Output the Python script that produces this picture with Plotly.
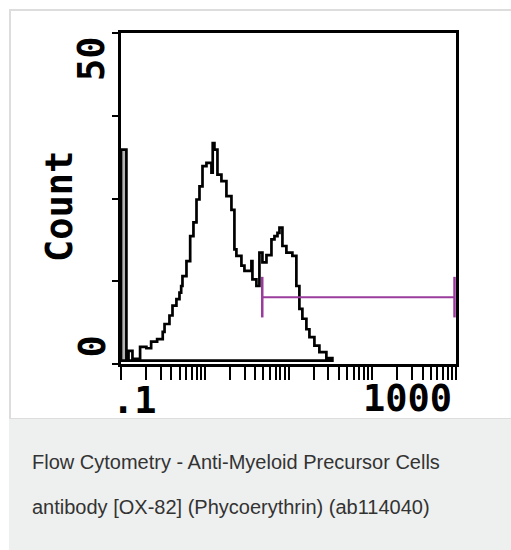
import numpy as np
import plotly.graph_objects as go

# ---------------- data ----------------
# histogram bins: left edge of each bin (fluorescence intensity) and count
bin_edges = [0.100, 0.116, 0.123, 0.137, 0.169, 0.201, 0.229, 0.270, 0.315, 0.331,
             0.379, 0.412, 0.459, 0.499, 0.523, 0.542, 0.605, 0.670, 0.733, 0.797,
             0.865, 0.940, 1.048, 1.202, 1.245, 1.305, 1.418, 1.582, 1.815, 2.083,
             2.261, 2.388, 2.741, 2.978, 3.608, 3.709, 4.139, 4.495, 4.884, 5.455,
             6.258, 6.799, 7.386, 7.801, 8.462, 9.440, 11.13, 12.42, 13.49, 14.65,
             16.36, 17.78, 20.39, 23.38, 28.33, 33.42]
bin_counts = [32.2, 0.0, 1.5, 0.3, 2.1, 1.9, 2.9, 3.3, 4.4, 5.6,
              6.9, 8.4, 9.4, 10.4, 11.4, 12.9, 15.2, 19.0, 21.1, 24.6,
              26.6, 29.7, 30.2, 28.7, 33.2, 32.2, 28.4, 27.4, 25.1, 23.0,
              17.0, 16.0, 14.5, 13.7, 15.2, 12.4, 11.4, 16.5, 15.0, 16.1,
              18.5, 19.0, 19.5, 20.3, 17.5, 16.5, 16.0, 11.4, 7.9, 6.4,
              4.8, 3.6, 2.3, 1.3, 0.4, 0.0]

gate_bounds = [4.86, 960]       # marker gate (intensity)
gate_level = 9.7                # count level at which the gate is drawn

x_range_log = [-1, 3]           # 0.1 .. 1000
y_range = [-0.5, 50]
x_labels = [".1", "1000"]
y_labels = ["50", "0"]
y_title = "Count"
caption = ["Flow Cytometry - Anti-Myeloid Precursor Cells",
           "antibody [OX-82] (Phycoerythrin) (ab114040)"]

# ---------------- layout geometry ----------------
W, H = 511, 550
ML, MR, MT, MB = 121, 55, 33, 186
PW, PH = W - ML - MR, H - MT - MB


def px(x):
    return (x - ML) / PW


def py(y):
    return (H - MB - y) / PH


# closed stepped outline of the histogram
hx = [bin_edges[0]] + list(bin_edges) + [bin_edges[0]]
hy = [0.0] + list(bin_counts) + [0.0]

fig = go.Figure()

# grey fill of the first (pile-up) bin
fig.add_trace(go.Scatter(
    x=bin_edges[:2], y=[bin_counts[0], bin_counts[0]], mode="lines",
    line=dict(width=0, shape="hv"), fill="tozeroy", fillcolor="#b4b4b4",
    hoverinfo="skip", showlegend=False))

fig.add_trace(go.Scatter(
    x=hx, y=hy, mode="lines",
    line=dict(color="black", width=2.7, shape="hv"),
    showlegend=False, hoverinfo="skip"))

# marker gate
fig.add_trace(go.Scatter(
    x=gate_bounds, y=[gate_level, gate_level], mode="lines+markers",
    line=dict(color="#9a3c9c", width=2),
    marker=dict(symbol="line-ns-open", size=29, line=dict(color="#9a3c9c", width=2.5)),
    showlegend=False, hoverinfo="skip"))

xt = [m * 10.0 ** d for d in range(-1, 3) for m in range(1, 10)] + [1000]
yt = list(np.linspace(y_range[0], y_range[1], 5))

fig.update_xaxes(type="log", range=x_range_log, showgrid=False, zeroline=False,
                 showline=True, mirror=True, linecolor="black", linewidth=3,
                 ticks="outside", tickvals=xt, ticklen=13, tickwidth=2,
                 tickcolor="black", showticklabels=False)
fig.update_yaxes(range=y_range, showgrid=False, zeroline=False,
                 showline=True, mirror=True, linecolor="black", linewidth=3,
                 ticks="outside", tickvals=yt, ticklen=6, tickwidth=2,
                 tickcolor="black", showticklabels=False)

tick_font = dict(family="DejaVu Sans Mono", size=37, color="black", weight="bold")
ann = [
    dict(text=y_title, x=px(59), y=py(207), textangle=-90, font=tick_font),
    dict(text=y_labels[0], x=px(91), y=py(59), textangle=-90, font=tick_font),
    dict(text=y_labels[1], x=px(91.5), y=py(347), textangle=-90, font=tick_font),
    dict(text=x_labels[0], x=px(134), y=py(400), font=tick_font),
    dict(text=x_labels[1], x=px(407), y=py(399), font=tick_font),
]
cap_font = dict(family="Liberation Sans, Arial, sans-serif", size=20, color="#333333")
ann += [
    dict(text=caption[0], x=px(30), y=py(462), xanchor="left", font=cap_font),
    dict(text=caption[1], x=px(30), y=py(507), xanchor="left", font=cap_font),
]
for a in ann:
    a.setdefault("xanchor", "center")
    a.update(xref="paper", yref="paper", yanchor="middle", showarrow=False)

shapes = [
    # card outline
    dict(type="rect", xref="paper", yref="paper", x0=px(10), x1=px(530),
         y0=py(419), y1=py(10), line=dict(color="#dddddd", width=2),
         fillcolor="rgba(0,0,0,0)", layer="below"),
    # caption band
    dict(type="rect", xref="paper", yref="paper", x0=px(9), x1=px(530),
         y0=py(560), y1=py(419), line=dict(width=0),
         fillcolor="#eeefef", layer="below"),
]

fig.update_layout(width=W, height=H, margin=dict(l=ML, r=MR, t=MT, b=MB),
                  paper_bgcolor="white", plot_bgcolor="white",
                  annotations=ann, shapes=shapes, showlegend=False)

fig.write_html("out.html", config={"displayModeBar": False},
               post_script="document.body.style.margin='0px';")
